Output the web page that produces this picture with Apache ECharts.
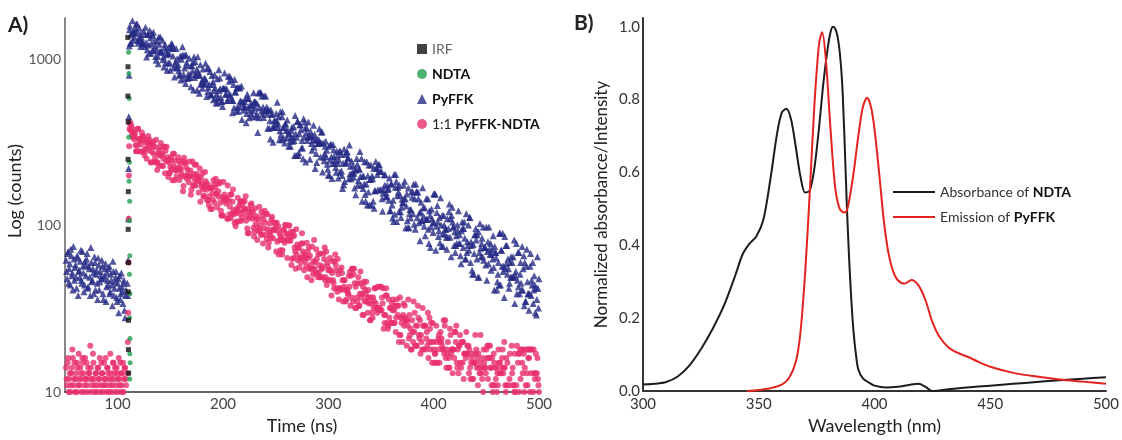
<!DOCTYPE html>
<html>
<head>
<meta charset="utf-8">
<script src="https://cdn.jsdelivr.net/npm/echarts@6/dist/echarts.min.js"></script>
<style>html,body{margin:0;padding:0;background:#fff}#c{width:1122px;height:440px}</style>
</head>
<body>
<div id="c"></div>
<script>
// ---------- Panel A: fluorescence decays (0.5-ns channels) ----------
const channelWidth = 0.5; // ns per channel
const preStart = 51;      // first pre-pulse channel (ns)
const decayStart = 112;   // first decay channel (ns)
const timeTicks = [100, 200, 300, 400, 500];
const countTicks = [10, 100, 1000];

const pyffkPre = [62,53,48,68,70,45,55,59,44,72,66,50,52,41,75,63,47,56,58,49,
  42,66,64,38,53,54,49,61,71,47,45,70,57,52,40,44,61,58,50,63,
  68,42,43,57,55,49,38,74,60,46,47,55,52,39,65,60,41,51,54,45,
  36,64,58,41,46,53,50,48,62,57,39,36,48,50,55,59,35,43,52,47,
  44,55,57,39,40,51,47,44,33,61,53,38,42,46,49,53,37,35,45,48,
  30,42,50,36,39,52,43,40,34,45,47,31,28,38,41];
const pyffkRise = [[109.2,45],[109.6,38],[110,62],[110.2,110],[110.4,220],[110.6,450],[110.8,800],[111,1200],[111.3,1500],[111.6,1580]];
const pyffkDecay = [
  1245,1395,1245,1437,1702,1303,1483,1437,1352,1437, 1540,1626,1471,1626,1292,1245,1292,1540,1333,1417,
  1190,1354,1274,1235,1235,1471,1235,1190,1405,1554, 1255,1028,1137,1407,1407,1217,1086,1486,1344,1086,
  1236,1420,1128,1380,1452,1128,1284,1199,1038,983, 1146,1285,1039,939,1357,1227,1112,1357,1112,1112,
  1095,1297,993,1030,898,1173,1228,948,1130,1063, 858,1079,949,1173,1079,949,858,1173,1239,1239,
  1157,1043,888,1157,782,930,967,1157,888,1004, 889,925,850,802,802,1045,748,998,1045,1186,
  1058,812,766,884,1058,715,1058,953,917,766, 812,776,1011,776,812,683,911,911,845,954,
  653,1035,776,966,807,807,870,653,1035,838, 801,624,801,924,709,709,742,669,872,709,
  765,709,765,946,737,596,882,639,677,882, 705,844,611,611,611,796,705,732,570,648,
  806,674,584,545,619,761,545,584,864,648, 770,667,591,557,557,520,667,667,667,825,
  663,615,615,663,565,565,788,615,736,788, 610,588,754,565,476,565,704,510,754,634,
  634,487,672,516,672,487,672,516,672,562, 557,689,434,537,557,493,516,557,516,579,
  415,472,615,580,514,580,445,494,533,472, 528,528,450,490,628,553,553,508,553,450,
  467,540,362,629,445,511,629,629,629,488, 601,466,516,446,601,489,489,601,489,516,
  467,385,494,494,385,426,331,494,467,467, 389,317,389,426,389,426,408,472,426,550,
  389,407,451,328,371,483,351,328,451,483, 389,336,389,314,408,408,373,336,431,373,
  356,300,356,321,300,340,372,390,321,340, 394,325,264,459,356,264,340,422,422,264,
  274,356,403,403,376,293,325,293,252,438, 341,419,386,241,360,386,325,341,419,341,
  344,250,369,344,311,284,344,326,401,297, 352,220,328,271,239,328,311,311,328,382,
  314,258,314,365,365,210,314,258,245,271, 300,321,259,284,234,218,201,300,201,247,
  307,307,259,192,236,307,286,259,236,247, 223,209,280,262,236,193,248,280,209,280,
  267,213,200,167,237,176,289,184,267,237, 240,277,277,255,255,191,305,204,227,191,
  244,206,206,229,195,206,168,216,153,216, 253,234,175,186,219,219,279,197,175,253,
  140,198,167,198,178,242,154,140,178,242, 133,199,159,231,133,189,189,231,133,199,
  191,140,221,127,162,162,243,221,221,203, 164,232,211,232,164,211,164,211,145,122,
  157,165,202,175,202,149,157,149,175,165, 167,142,193,123,123,178,178,133,111,142,
  106,203,117,170,203,184,106,151,170,159, 121,175,152,121,112,129,144,137,137,175,
  145,185,145,97,131,155,107,97,168,97, 118,125,111,125,160,148,160,118,177,102,
  145,95,178,159,159,112,159,145,104,119, 81,121,138,107,107,169,128,114,99,128,
  87,109,145,109,109,145,95,78,123,115, 74,98,126,110,104,91,155,104,155,155,
  71,99,120,132,105,86,93,112,79,147, 101,75,115,89,75,115,101,89,95,95,
  85,72,110,85,96,121,135,85,110,65, 115,129,105,98,98,76,92,69,76,87,
  78,101,93,123,78,88,78,66,59,93, 105,96,74,96,105,84,63,63,118,69,
  80,76,101,71,112,112,60,80,76,54, 51,77,51,68,88,88,96,82,63,88,
  49,92,49,69,103,73,65,78,84,65, 98,62,74,74,74,58,98,47,70,80,
  59,98,72,67,78,54,67,72,63,87, 56,41,75,69,69,64,41,46,51,60,
  44,90,90,44,71,71,57,90,53,57, 37,86,55,76,59,76,51,63,55,42,
  45,60,49,65,49,60,49,65,49,82, 34,50,53,78,39,47,69,43,69,39,
  51,60,45,41,75,41,55,66,33,60, 35,35,57,72,46,39,39,31,39,57,
  68,38,47,44,60,34,41,50,44,30, 42,29,36,65,42,32,48];

const mixPre = [14,12,11,15,16,10,12,13,10,11,13,14,18,16,11,12,15,10,12,13,
  10,15,14,11,17,12,11,14,13,10,12,16,15,13,10,11,16,12,12,15,
  11,10,14,13,13,12,19,14,10,11,12,17,15,12,11,10,13,13,10,11,
  14,14,12,12,16,10,11,15,13,13,10,11,15,12,12,16,11,10,14,14,
  13,12,10,11,17,13,12,10,11,15,15,12,13,14,10,11,14,13,12,10,
  16,12,11,15,13,11,10,13,15,10,12,14,14,12,11];
const mixRise = [[109.3,13],[109.7,20],[110,30],[110.3,60],[110.5,110],[110.7,200],[110.9,300],[111.2,380],[111.5,410]];
const mixDecay = [
  415,372,398,350,381,338,362,344,330,356, 304,280,280,304,382,382,333,280,323,333,
  307,278,363,344,344,328,278,265,288,316, 291,252,327,312,345,283,312,327,300,239,
  240,277,311,297,319,269,240,251,297,328, 239,216,239,272,229,283,264,296,313,264,
  228,270,228,252,298,298,206,282,244,298, 257,247,196,240,207,207,225,257,247,217,
  187,270,228,270,187,245,215,215,198,222, 217,257,244,188,217,233,217,204,197,244,
  161,173,256,239,239,199,225,192,199,215, 197,182,243,197,214,153,164,197,243,174,
  204,174,232,187,174,232,204,187,195,195, 158,185,220,139,194,172,178,206,165,149,
  151,170,210,185,177,164,142,177,142,133, 150,168,126,168,168,126,156,143,187,176,
  137,169,191,155,155,129,179,161,149,179, 183,137,123,115,115,148,115,183,142,154,
  141,146,136,146,110,174,110,141,117,130, 154,111,154,118,139,165,124,118,104,118,
  99,123,106,127,147,123,106,132,118,139, 140,107,112,132,140,121,126,140,126,150,
  107,115,96,90,125,90,111,120,133,115, 136,124,110,120,97,86,92,127,102,110,
  114,82,97,93,109,130,93,101,88,121, 88,115,78,109,96,123,104,88,118,83,
  117,95,74,79,91,103,88,84,109,113, 94,84,94,104,94,104,98,70,104,80,
  93,99,67,82,89,71,86,82,67,71, 94,82,94,79,101,101,89,82,64,89,
  100,81,100,86,81,92,58,63,86,92, 64,87,74,70,55,95,67,77,62,74,
  73,56,64,64,60,78,90,78,70,67, 54,64,61,66,57,79,49,70,64,74,
  55,66,58,55,47,75,55,51,61,82, 55,60,52,72,63,52,49,67,52,58,
  49,68,49,55,55,57,49,68,63,74, 47,49,70,44,60,57,54,47,54,64,
  47,54,38,52,61,47,45,42,61,67, 58,54,42,40,63,51,36,42,54,42,
  41,56,52,47,35,47,43,47,41,35, 36,41,41,39,39,50,43,53,33,50,
  37,55,55,35,51,55,45,32,43,32, 37,35,45,49,33,33,39,53,45,37,
  39,29,43,29,46,35,41,39,46,35, 37,30,41,34,37,27,27,34,37,30,
  28,37,32,35,42,42,34,32,32,30, 43,32,31,32,43,31,43,31,37,34,
  42,24,29,26,29,38,42,38,26,24, 25,36,28,32,32,26,26,34,31,36,
  26,31,26,33,23,28,36,33,29,33, 20,22,37,22,28,26,28,20,29,34,
  25,33,28,27,27,19,27,25,36,21, 29,22,24,18,18,27,23,20,35,23,
  30,19,25,19,19,25,33,28,22,21, 27,17,22,20,18,32,25,18,25,25,
  25,18,21,23,19,30,16,20,28,24, 18,26,20,15,26,20,18,15,17,17,
  15,25,20,15,18,21,22,15,20,23, 20,21,19,18,18,27,17,25,27,16,
  14,18,17,20,14,16,14,24,22,17, 18,18,13,18,18,16,23,23,20,25,
  15,14,18,13,19,19,22,15,14,20, 20,15,20,12,17,17,17,16,23,17,
  19,17,19,13,18,14,12,15,16,12, 17,12,15,15,15,22,17,18,14,16,
  11,17,14,13,15,22,13,14,12,16, 10,18,15,14,14,13,18,16,19,12,
  19,16,16,19,14,14,11,16,10,11, 17,15,11,14,12,14,10,13,11,18,
  15,13,15,13,13,14,16,18,13,14, 20,14,11,10,16,11,15,9,9,11,
  12,17,9,9,19,13,14,11,11,10, 17,10,9,11,19,9,15,17,10,17,
  18,12,9,18,15,13,18,17,10,14, 9,11,18,13,11,18,16,16,18,10,
  18,13,18,9,9,10,18,13,12,13, 17,8,13,16,12,11,10];

const irfPoints = [[109.6,1350],[109.8,900],[109.7,600],[110,420],[109.9,250],[110.1,160],[110,95],[110.2,60],[110.1,40],[110.3,27],[110.2,18],[110.4,13]];
const ndtaPoints = [[110.4,1100],[110.6,820],[111,580],[110.5,340],[111.2,240],[110.8,185],[111.4,140],[111,107],[111.5,66],[111.2,51],[111.6,39],[111.3,28],[111.7,21],[111.5,17],[111.8,15],[111.4,12]];

// ---------- Panel B: spectra ----------
const wlTicks = [300, 350, 400, 450, 500];
const normTicks = [0, 0.2, 0.4, 0.6, 0.8, 1.0];
const absWl  = [300,305,310,315,320,325,330,335,340,343,346,349,352,355,358,360,362,364,366,368,370,372,374,376,378,380,381,382,383,384,385,386,387,388,389,390,391,392,393,395,398,400,405,410,415,419,422,425,428,432,440,450,460,470,480,490,500];
const absVal = [0.018,0.02,0.025,0.04,0.07,0.115,0.17,0.235,0.32,0.375,0.405,0.425,0.47,0.58,0.71,0.765,0.775,0.745,0.67,0.59,0.545,0.55,0.61,0.72,0.85,0.95,0.985,1.0,0.995,0.975,0.93,0.85,0.7,0.52,0.37,0.25,0.16,0.1,0.06,0.035,0.022,0.015,0.01,0.012,0.017,0.02,0.012,0.0,0.002,0.005,0.01,0.015,0.02,0.025,0.03,0.034,0.038];
const emWl  = [345,350,355,360,363,366,368,370,372,374,376,377.4,379,381,383,385,387,388,389,391,393,395,396.8,398.5,400,402,404,406,408,410,413,416,419,422,425,428,432,436,440,445,450,460,470,480,490,500];
const emVal = [0.0,0.003,0.008,0.018,0.035,0.08,0.16,0.32,0.54,0.78,0.95,0.985,0.91,0.72,0.56,0.5,0.49,0.495,0.52,0.6,0.7,0.78,0.805,0.78,0.72,0.6,0.47,0.38,0.33,0.305,0.295,0.305,0.29,0.25,0.19,0.15,0.12,0.105,0.095,0.08,0.067,0.05,0.04,0.032,0.026,0.02];

// ---------- build ----------
function channels(start, counts) { return counts.map((c, i) => [start + i * channelWidth, c]); }
function pairs(xs, ys) { return xs.map((x, i) => [x, ys[i]]); }

const FONT = 'Lato';
const legendLabelsA = {
  'IRF': '{n|IRF}',
  'NDTA': '{b|NDTA}',
  'PyFFK': '{b|PyFFK}',
  '1:1 PyFFK-NDTA': '{m|1:1 }{b|PyFFK-NDTA}'
};
const legendLabelsB = {
  'Absorbance of NDTA': '{m|Absorbance of }{b|NDTA}',
  'Emission of PyFFK': '{m|Emission of }{b|PyFFK}'
};

const chart = echarts.init(document.getElementById('c'), null, { renderer: 'canvas' });
chart.setOption({
  animation: false,
  textStyle: { fontFamily: FONT },
  title: [
    { text: 'A)', left: 8, top: 15, padding: 0, textStyle: { fontFamily: FONT, fontWeight: 'bold', fontSize: 21, color: '#222' } },
    { text: 'B)', left: 574, top: 13, padding: 0, textStyle: { fontFamily: FONT, fontWeight: 'bold', fontSize: 21, color: '#222' } }
  ],
  legend: [
    {
      data: ['IRF', 'NDTA', 'PyFFK', '1:1 PyFFK-NDTA'],
      orient: 'vertical', left: 417, top: 41, itemWidth: 10, itemHeight: 10, itemGap: 9, padding: 0,
      formatter: name => legendLabelsA[name],
      textStyle: {
        fontFamily: FONT, fontSize: 14, lineHeight: 16,
        rich: {
          n: { fontFamily: FONT, fontSize: 14, color: '#666' },
          m: { fontFamily: FONT, fontSize: 14, color: '#222' },
          b: { fontFamily: FONT, fontSize: 14, fontWeight: 'bold', color: '#111' }
        }
      }
    },
    {
      data: ['Absorbance of NDTA', 'Emission of PyFFK'],
      orient: 'vertical', left: 893, top: 184, icon: 'rect', itemWidth: 42, itemHeight: 2, itemGap: 9, padding: 0,
      formatter: name => legendLabelsB[name],
      textStyle: {
        fontFamily: FONT, fontSize: 14, lineHeight: 16,
        rich: {
          m: { fontFamily: FONT, fontSize: 14, color: '#333' },
          b: { fontFamily: FONT, fontSize: 14, fontWeight: 'bold', color: '#111' }
        }
      }
    }
  ],
  grid: [
    { left: 65, top: 18, width: 474, height: 382 },
    { left: 643, top: 18, width: 465, height: 382 }
  ],
  xAxis: [
    {
      gridIndex: 0, type: 'value', min: 50, max: 500,
      name: 'Time (ns)', nameLocation: 'middle', nameGap: 22,
      nameTextStyle: { fontFamily: FONT, fontSize: 18, color: '#222' },
      axisLine: { show: true, onZero: false, lineStyle: { color: '#333', width: 1.5 } },
      axisTick: { show: false }, splitLine: { show: false },
      axisLabel: { customValues: timeTicks, fontFamily: FONT, fontSize: 15, color: '#444', margin: 5 }
    },
    {
      gridIndex: 1, type: 'value', min: 300, max: 500, interval: 50,
      name: 'Wavelength (nm)', nameLocation: 'middle', nameGap: 22,
      nameTextStyle: { fontFamily: FONT, fontSize: 18, color: '#222' },
      axisLine: { show: true, onZero: false, lineStyle: { color: '#333', width: 2 } },
      axisTick: { show: false }, splitLine: { show: false },
      axisLabel: { customValues: wlTicks, fontFamily: FONT, fontSize: 15, color: '#333', margin: 6 }
    }
  ],
  yAxis: [
    {
      gridIndex: 0, type: 'log', logBase: 10, min: 10, max: 1766,
      name: 'Log (counts)', nameLocation: 'middle', nameGap: 30,
      nameTextStyle: { fontFamily: FONT, fontSize: 18, color: '#222', padding: [0, 0, 0, 28] },
      axisLine: { show: true, onZero: false, lineStyle: { color: '#888', width: 2 } },
      axisTick: { show: false }, splitLine: { show: false },
      axisLabel: { customValues: countTicks, formatter: v => String(Math.round(v)), fontFamily: FONT, fontSize: 14, color: '#555', margin: 4 }
    },
    {
      gridIndex: 1, type: 'value', min: 0, max: 1.024,
      name: 'Normalized absorbance/Intensity', nameLocation: 'middle', nameGap: 33,
      nameTextStyle: { fontFamily: FONT, fontSize: 17, color: '#222' },
      axisLine: { show: true, onZero: false, lineStyle: { color: '#333', width: 2 } },
      axisTick: { show: false }, splitLine: { show: false },
      axisLabel: { customValues: normTicks, formatter: v => v.toFixed(1), fontFamily: FONT, fontSize: 15, color: '#333', margin: 3 }
    }
  ],
  series: [
    {
      name: 'PyFFK', type: 'scatter', xAxisIndex: 0, yAxisIndex: 0,
      symbol: 'triangle', symbolSize: 7, itemStyle: { color: '#252a86' },
      data: channels(preStart, pyffkPre).concat(pyffkRise, channels(decayStart, pyffkDecay))
    },
    {
      name: '1:1 PyFFK-NDTA', type: 'scatter', xAxisIndex: 0, yAxisIndex: 0,
      symbol: 'circle', symbolSize: 6, itemStyle: { color: '#e8306b' },
      data: channels(preStart, mixPre).concat(mixRise, channels(decayStart, mixDecay))
    },
    {
      name: 'NDTA', type: 'scatter', xAxisIndex: 0, yAxisIndex: 0,
      symbol: 'circle', symbolSize: 5, itemStyle: { color: '#1f9e4d' },
      data: ndtaPoints
    },
    {
      name: 'IRF', type: 'scatter', xAxisIndex: 0, yAxisIndex: 0,
      symbol: 'rect', symbolSize: 5, itemStyle: { color: '#111' },
      data: irfPoints
    },
    {
      name: 'Absorbance of NDTA', type: 'line', xAxisIndex: 1, yAxisIndex: 1,
      symbol: 'none', smooth: 0.3, lineStyle: { color: '#1c1c1c', width: 2 }, itemStyle: { color: '#1c1c1c' },
      data: pairs(absWl, absVal)
    },
    {
      name: 'Emission of PyFFK', type: 'line', xAxisIndex: 1, yAxisIndex: 1,
      symbol: 'none', smooth: 0.3, lineStyle: { color: '#e3231f', width: 2 }, itemStyle: { color: '#e3231f' },
      data: pairs(emWl, emVal)
    }
  ]
});
</script>
</body>
</html>
